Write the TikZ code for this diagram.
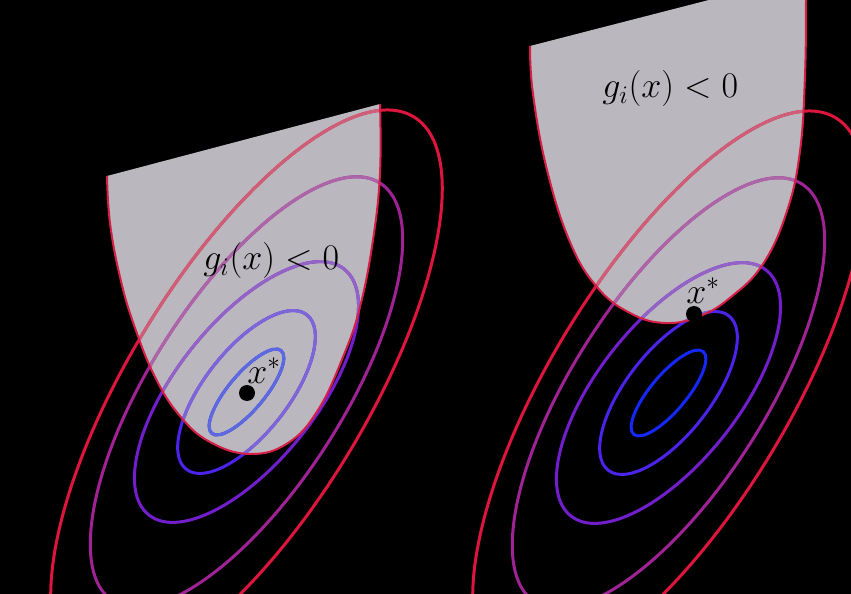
\RequirePackage{fix-cm}
\documentclass[tikz,border=0pt]{standalone}
\definecolor{regiongray}{RGB}{186,184,190}
\definecolor{cA}{RGB}{20,40,250}
\definecolor{cB}{RGB}{75,35,235}
\definecolor{cC}{RGB}{115,30,205}
\definecolor{cD}{RGB}{160,35,150}
\definecolor{cE}{RGB}{222,22,62}
\definecolor{borderred}{RGB}{215,30,70}
\newcommand\leftcurve{plot[smooth,tension=0.7] coordinates {(107,176) (110,223) (120,277) (134,325) (155,377) (180,416) (210,442) (250,454) (288,443) (318,410) (343,357) (360,307) (373,240) (380,173) (380,104)}}
\newcommand\rightcurve{plot[smooth,tension=0.7] coordinates {(530,46) (533,94) (547,170) (570,242) (597,287) (630,313) (665,323) (700,316) (731,297) (763,264) (787,211) (800,151) (805,75) (806,0) (806,-25)}}
\newcommand\drawrings[2]{%
  \foreach \rc/\ra/\rb/\rt in {cA/54/18/50,cB/98/42/52,cC/157/70/51.5,cD/248/96/57.4,cE/322/119/58.7}{%
    \draw[ringline, draw=\rc!#2!regiongray, rotate around={\rt:(#1)}] (#1) ellipse [x radius=\ra, y radius=\rb];}}
\tikzset{
  ringline/.style={line width=0.06cm},
  regionborder/.style={draw=borderred, line width=0.04cm},
  dot/.style={circle, fill=black, inner sep=0pt, minimum size=0.32cm},
  lbl/.style={inner sep=0pt, text=black, font=\fontsize{20.5}{24}\selectfont}
}
\begin{document}
\begin{tikzpicture}[x=0.02cm, y=-0.02cm]
\fill[black] (0,0) rectangle (851,594);
\useasboundingbox (0,0) rectangle (851,594);
\clip (0,0) rectangle (851,594);
\coordinate (cl) at (246.5,392);
\coordinate (cr) at (668.5,393);
% left panel
\fill[regiongray] \leftcurve -- cycle;
\drawrings{cl}{100}
\begin{scope}
  \clip \leftcurve -- cycle;
  \drawrings{cl}{55}
\end{scope}
\draw[regionborder] \leftcurve;
\node[dot] (dl) at (247,393) {};
\node[lbl, anchor=base west] (sl) at (247,383) {$x^*$};
\node[lbl, anchor=base west] (gl) at (203,270) {$g_i(x) < 0$};
% right panel
\fill[regiongray] \rightcurve -- cycle;
\drawrings{cr}{100}
\begin{scope}
  \clip \rightcurve -- cycle;
  \drawrings{cr}{55}
\end{scope}
\draw[regionborder] \rightcurve;
\node[dot] (dr) at (694,314) {};
\node[lbl, anchor=base west] (sr) at (686,303) {$x^*$};
\node[lbl, anchor=base west] (gr) at (602,98) {$g_i(x) < 0$};
\end{tikzpicture}
\end{document}
